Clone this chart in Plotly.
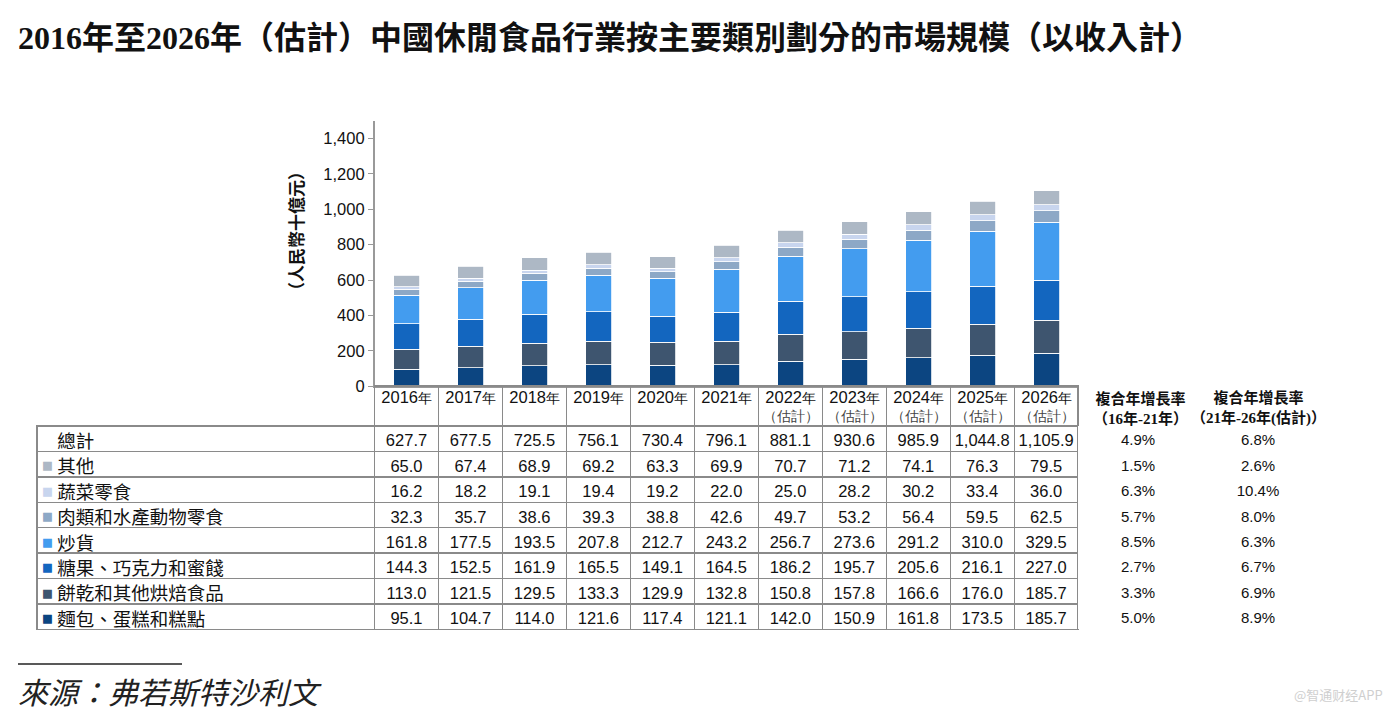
import plotly.graph_objects as go

# page offset (browser body margin) and figure size
OFF_X = 8
OFF_Y, SY = 8.4, 0.985   # measured vertical mapping of the rendered page
FW, FH = 1395 - 2 * OFF_X, 700

years = ['2016', '2017', '2018', '2019', '2020', '2021', '2022', '2023', '2024', '2025', '2026']
estimated = [False, False, False, False, False, False, True, True, True, True, True]

bread = [95.1, 104.7, 114.0, 121.6, 117.4, 121.1, 142.0, 150.9, 161.8, 173.5, 185.7]
biscuits = [113.0, 121.5, 129.5, 133.3, 129.9, 132.8, 150.8, 157.8, 166.6, 176.0, 185.7]
candy = [144.3, 152.5, 161.9, 165.5, 149.1, 164.5, 186.2, 195.7, 205.6, 216.1, 227.0]
nuts = [161.8, 177.5, 193.5, 207.8, 212.7, 243.2, 256.7, 273.6, 291.2, 310.0, 329.5]
meat = [32.3, 35.7, 38.6, 39.3, 38.8, 42.6, 49.7, 53.2, 56.4, 59.5, 62.5]
veg = [16.2, 18.2, 19.1, 19.4, 19.2, 22.0, 25.0, 28.2, 30.2, 33.4, 36.0]
other = [65.0, 67.4, 68.9, 69.2, 63.3, 69.9, 70.7, 71.2, 74.1, 76.3, 79.5]
totals = [627.7, 677.5, 725.5, 756.1, 730.4, 796.1, 881.1, 930.6, 985.9, 1044.8, 1105.9]

# table rows (top to bottom)
row_labels = ['總計', '其他', '蔬菜零食', '肉類和水產動物零食', '炒貨',
              '糖果、巧克力和蜜餞', '餅乾和其他烘焙食品', '麵包、蛋糕和糕點']
cagr_16_21 = ['4.9%', '1.5%', '6.3%', '5.7%', '8.5%', '2.7%', '3.3%', '5.0%']
cagr_21_26 = ['6.8%', '2.6%', '10.4%', '8.0%', '6.3%', '6.7%', '6.9%', '8.9%']
cagr_headers = ['複合年增長率<br>（16年-21年）', '複合年增長率<br>（21年-26年(估計)）']

# stacked series bottom to top
series = [
    ('麵包、蛋糕和糕點', bread, '#0c4581'),
    ('餅乾和其他烘焙食品', biscuits, '#3e556f'),
    ('糖果、巧克力和蜜餞', candy, '#1366bf'),
    ('炒貨', nuts, '#439cef'),
    ('肉類和水產動物零食', meat, '#8da8c6'),
    ('蔬菜零食', veg, '#c8d5ee'),
    ('其他', other, '#adb8c5'),
]
color_of = {name: c for name, _, c in series}
rows_by_name = {name: vals for name, vals, _ in series}


def px_x(p):
    return (p - OFF_X) / FW


def fig_y(p):
    return (p - OFF_Y) / SY


def px_y(p):
    return 1 - fig_y(p) / FH


fig = go.Figure()
for name, vals, col in series:
    fig.add_trace(go.Bar(x=years, y=vals, name=name,
                         marker=dict(color=col, line=dict(color='white', width=0.8)),
                         showlegend=False, hoverinfo='skip'))

# ---- table geometry (target page pixels) ----
axis_left, axis_right = 374.7, 1078.7
col_w = (axis_right - axis_left) / len(years)
label_left = 37.0
table_top = 385.7
header_h = 40.0
row_h = 25.4
body_top = 426.7
cagr_w = [120.0, 120.0]
cagr_centers = [1140, 1258]

indent = '\u2002\u2006'
label_cells = [indent + lab for lab in row_labels]

columns = [label_cells]
for i, y in enumerate(years):
    colvals = [f'{totals[i]:,.1f}'] + [f'{rows_by_name[lab][i]:,.1f}' for lab in row_labels[1:]]
    columns.append(colvals)
columns.append(cagr_16_21)
columns.append(cagr_21_26)

ncols = len(columns)
widths = [axis_left - label_left] + [col_w] * len(years) + cagr_w
grid = '#8a8a8a'

fig.add_trace(go.Table(
    domain=dict(x=[px_x(label_left), px_x(label_left + sum(widths))], y=[0.0, px_y(table_top)]),
    columnwidth=widths,
    header=dict(
        values=[''] * ncols,
        height=header_h,
        fill=dict(color='rgba(255,255,255,0)'),
        line=dict(color=grid, width=[0] + [1.3] * len(years) + [0, 0]),
        font=dict(size=10),
    ),
    cells=dict(
        values=columns,
        height=row_h,
        align=['left'] + ['center'] * (ncols - 1),
        fill=dict(color='white'),
        line=dict(color=grid, width=[1.3] * (len(years) + 1) + [0, 0]),
        font=dict(family=['Noto Sans CJK TC'] + ['Liberation Sans, Arial'] * (ncols - 1),
                  size=[18.5] + [16.5] * len(years) + [15, 15], color='#111'),
    ),
))

# year labels for the table header (x-axis tick labels)
tick_text = []
for y, est in zip(years, estimated):
    t = f'<span style="font-size:16.5px">{y}</span>年'
    if est:
        t += '<br><span style="color:#444">（估計）</span>'
    tick_text.append(t)

# legend keys (coloured squares) in the label column
annotations = []
for i, lab in enumerate(row_labels):
    if lab in color_of:
        annotations.append(dict(text='■', xref='paper', yref='paper', x=px_x(47.5),
                                y=px_y(body_top + row_h * (i + 0.5)),
                                xanchor='center', yanchor='middle', showarrow=False,
                                font=dict(family='DejaVu Sans', size=11.5, color=color_of[lab])))

for h, cx in zip(cagr_headers, cagr_centers):
    annotations.append(dict(text=f'<b>{h}</b>', xref='paper', yref='paper', x=px_x(cx), y=px_y(408),
                            xanchor='center', yanchor='middle', showarrow=False,
                            font=dict(family='Liberation Serif, Noto Sans CJK TC', size=15, color='#111')))

annotations += [
    dict(text='2016年至2026年（估計）中國休閒食品行業按主要類別劃分的市場規模（以收入計）',
         xref='paper', yref='paper', x=px_x(16), y=px_y(38), xanchor='left', yanchor='middle',
         showarrow=False, font=dict(family='Liberation Serif, Noto Sans CJK TC', size=32, color='#111', weight='bold')),
    dict(text='（人民幣十億元）', xref='paper', yref='paper', x=px_x(295), y=px_y(231),
         xanchor='center', yanchor='middle', textangle=-90, showarrow=False,
         font=dict(family='Noto Sans CJK TC', size=17, color='#111', weight='bold')),
    dict(text='<i>來源：弗若斯特沙利文</i> ',
         xref='paper', yref='paper', x=px_x(16), y=px_y(692), xanchor='left', yanchor='middle',
         showarrow=False, font=dict(family='Liberation Serif, Noto Sans CJK TC', size=30, color='#222')),
    dict(text='@智通财经APP', xref='paper', yref='paper', x=px_x(1385), y=px_y(693),
         xanchor='right', yanchor='middle', showarrow=False,
         font=dict(family='Noto Sans CJK SC', size=13, color='#cfcfcf')),
]

fig.update_layout(
    width=FW, height=FH,
    margin=dict(l=0, r=0, t=0, b=0),
    paper_bgcolor='white', plot_bgcolor='white',
    barmode='stack', bargap=0.59,
    showlegend=False,
    xaxis=dict(domain=[px_x(axis_left), px_x(axis_right)], tickvals=years, ticktext=tick_text, ticks='',
               ticklabelstandoff=-2,
               tickfont=dict(family='Liberation Sans, Arial', size=14, color='#111'),
               showline=True, linecolor='#999', linewidth=1.5, showgrid=False, zeroline=False,
               range=[-0.5, len(years) - 0.5], fixedrange=True),
    yaxis=dict(domain=[px_y(table_top), px_y(121)], range=[0, 1500],
               tickvals=[0, 200, 400, 600, 800, 1000, 1200, 1400],
               tickformat=',', showline=True, linecolor='#999', linewidth=1.5, ticks='outside', ticklen=5,
               tickcolor='#999', showgrid=False, zeroline=False,
               tickfont=dict(family='Liberation Sans, Arial', size=16.5, color='#111'),
               fixedrange=True),
    annotations=annotations,
    shapes=[dict(type='line', xref='paper', yref='paper', x0=px_x(18), x1=px_x(182), y0=px_y(663), y1=px_y(663),
                 line=dict(color='#222', width=1.5))],
)

fig.write_html("out.html")
